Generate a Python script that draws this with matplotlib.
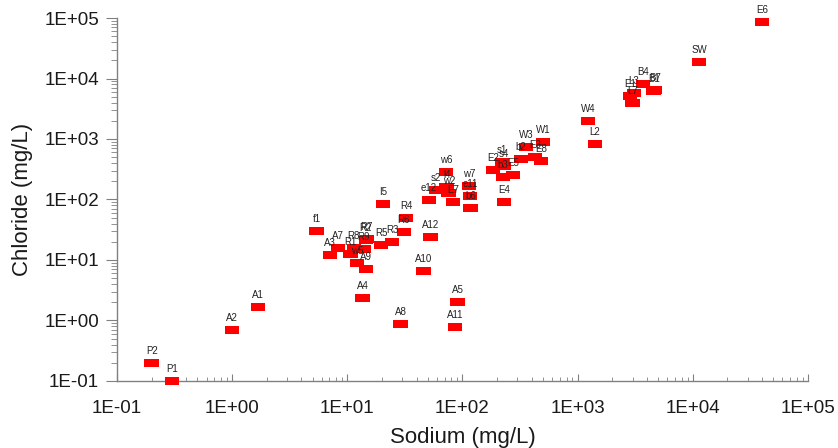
import matplotlib
matplotlib.use('Agg')
import matplotlib.pyplot as plt
from matplotlib.ticker import FixedLocator, FixedFormatter, LogLocator, NullFormatter

plt.rcParams['font.family'] = ['Liberation Sans', 'DejaVu Sans']

# sample names, sodium and chloride (mg/L)
labels = ['P2', 'P1', 'A2', 'A1', 'f1', 'A7', 'A3', 'R2', 'R7', 'R8', 'R9', 'R1',
          'w5', 'A9', 'A4', 'I5', 'R5', 'R3', 'R6', 'R4', 'A12', 'A10', 'A8',
          'A11', 'A5', 'e12', 's2', 'l4', 'w2', 'w6', 'E7', 'w7', 'e11', 'b6',
          'E4', 'E2', 's1', 's4', 'b3', 'E5', 'b2', 'W3', 'W1', 'E3', 'E8',
          'W4', 'L2', 'E1', 'L3', 'L7', 'B4', 'B1', 'B7', 'SW', 'E6']
sodium = [0.2, 0.3, 1.0, 1.67, 5.4, 8.3, 7.1, 14.5, 14.8, 11.4, 13.9, 10.7,
          12.1, 14.5, 13.6, 20.4, 19.6, 24.4, 31, 32.3, 53, 46, 29,
          86, 91, 51, 59, 73, 76, 72, 83, 114, 116, 118,
          229, 184, 220, 229, 224, 274, 321, 355, 499, 425, 480,
          1230, 1410, 2840, 3080, 3010, 3680, 4580, 4700, 11300, 39700]
chloride = [0.2, 0.1, 0.7, 1.67, 30, 15.8, 12.1, 21.4, 22.2, 15.8, 15.2, 12.6,
            8.9, 7.1, 2.35, 84, 17.7, 19.8, 29, 49.5, 24, 6.6, 0.88,
            0.78, 2.0, 98, 144, 161, 128, 285, 91, 167, 114, 72.4,
            91, 307, 417, 358, 235, 254, 467, 738, 892, 504, 433,
            1990, 826, 5140, 5760, 3940, 8100, 6200, 6500, 18700, 86000]

decades = [0.1, 1, 10, 100, 1000, 10000, 100000]
decade_labels = ['1E-01', '1E+00', '1E+01', '1E+02', '1E+03', '1E+04', '1E+05']

fig = plt.figure(figsize=(8.38, 4.48), dpi=100)
ax = fig.add_axes([0.1396, 0.1496, 0.8246, 0.8102])

rect = [(-1, -0.57), (1, -0.57), (1, 0.57), (-1, 0.57), (-1, -0.57)]
ax.scatter(sodium, chloride, marker=rect, s=10.5 ** 2, color='#ff0000',
           edgecolors='none', clip_on=False, zorder=3)
for name, x, y in zip(labels, sodium, chloride):
    ax.annotate(name, (x, y), xytext=(0, 5), textcoords='offset points',
                ha='center', va='bottom', fontsize=7, color='#222222', zorder=4)

ax.set_xscale('log')
ax.set_yscale('log')
ax.set_xlim(0.1, 1e5)
ax.set_ylim(0.1, 1e5)

for axis in (ax.xaxis, ax.yaxis):
    axis.set_major_locator(FixedLocator(decades))
    axis.set_major_formatter(FixedFormatter(decade_labels))
    axis.set_minor_locator(LogLocator(base=10, subs=range(2, 10), numticks=20))
    axis.set_minor_formatter(NullFormatter())

for s in ('top', 'right'):
    ax.spines[s].set_visible(False)
for s in ('left', 'bottom'):
    ax.spines[s].set_color('#808080')
    ax.spines[s].set_linewidth(1.0)

ax.tick_params(axis='y', which='major', direction='out', length=8, color='#808080',
               labelsize=13.5, labelcolor='#1a1a1a', pad=5)
ax.tick_params(axis='y', which='minor', direction='out', length=4, color='#808080')
ax.tick_params(axis='x', which='major', direction='in', length=5, color='#808080',
               labelsize=13.5, labelcolor='#1a1a1a', pad=14)
ax.tick_params(axis='x', which='minor', direction='in', length=3, color='#808080')

ax.set_xlabel('Sodium (mg/L)', fontsize=16, color='#1a1a1a', labelpad=7)
ax.set_ylabel('Chloride (mg/L)', fontsize=16, color='#1a1a1a', labelpad=8)

fig.savefig('out.png', dpi=100)
